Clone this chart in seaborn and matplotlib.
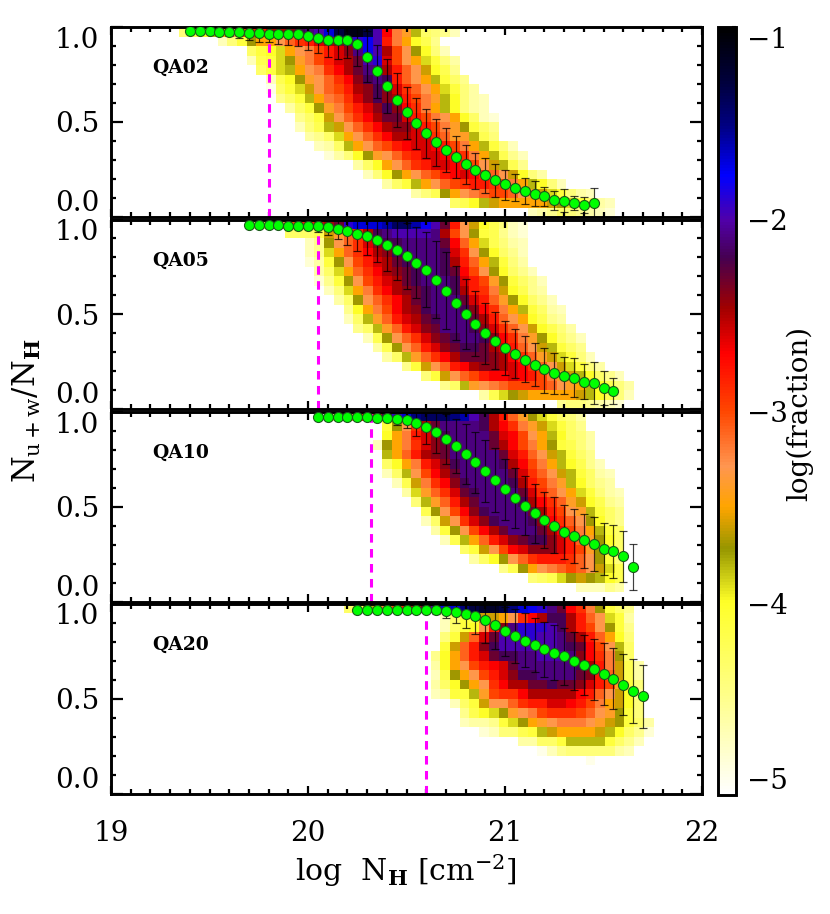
import numpy as np
import matplotlib
matplotlib.use("Agg")
import matplotlib.pyplot as plt
from matplotlib.colors import LinearSegmentedColormap
from matplotlib.ticker import MultipleLocator
import seaborn as sns

sns.set_theme(style="white")
plt.rcParams['font.family'] = ['DejaVu Serif']
plt.rcParams['mathtext.fontset'] = 'dejavuserif'
plt.rcParams.update({'text.color': 'black', 'axes.labelcolor': 'black', 'xtick.color': 'black', 'ytick.color': 'black'})

# Heat-map cells: (first column, values) per row, top row first; values are -log(fraction) x 10
QA02_rows = [
 (7,[44,42,40,38,35,33,30,28,28,25,25,24,22,21,20,17,13,11,11,13,20,27,32,34,38,43,44,45,47]),
 (11,[47,44,41,37,35,35,33,31,29,28,26,25,24,21,19,18,20,28,32,35,40,42,45]),
 (14,[43,41,40,39,35,33,32,30,28,26,24,21,18,20,25,30,33,37,40,44,47]),
 (14,[47,42,41,39,37,34,32,30,28,26,25,23,20,19,26,30,33,35,39,41,44,46]),
 (15,[43,41,39,38,35,33,32,29,27,25,23,21,21,25,28,31,33,36,40,42,45]),
 (16,[47,42,40,37,34,33,31,29,27,24,22,21,22,28,31,33,35,38,41,43,45]),
 (16,[49,43,41,39,36,33,31,30,28,25,24,22,24,26,29,31,33,35,39,41,44,46]),
 (17,[45,43,41,38,35,32,31,29,26,24,22,24,25,28,30,32,34,38,40,44,46,47]),
 (18,[46,43,41,37,34,32,30,28,26,24,22,24,27,29,32,35,38,40,44,46,47]),
 (19,[45,43,41,36,33,31,29,27,25,23,23,26,28,30,32,33,35,40,43,47,48]),
 (19,[47,44,42,38,36,33,31,29,27,25,24,24,26,28,30,32,34,37,41,43,45]),
 (20,[46,45,43,39,35,33,31,29,27,25,25,26,26,29,31,34,34,38,42,44]),
 (21,[47,46,43,38,35,33,31,30,28,27,26,26,27,28,30,32,35,38,41,44,47]),
 (22,[48,46,44,40,37,34,33,31,29,28,26,26,27,28,29,32,35,38,42,45,47]),
 (25,[46,43,40,35,33,31,29,28,26,26,27,28,30,33,36,38,42,45]),
 (26,[47,44,40,37,35,33,31,30,28,27,26,27,29,31,33,36,40,44,46]),
 (28,[46,43,41,38,35,33,31,30,29,28,28,29,30,32,35,38,40,44,47]),
 (31,[46,44,42,37,35,33,32,31,30,30,31,33,34,36,39,41,44,46,47]),
 (35,[43,42,40,38,36,35,35,35,35,35,36,37,39,41,43,46,47]),
 (43,[47,46,45,43,44,45,46,47,48]),
]
QA05_rows = [
 (14,[44,42,38,33,30,28,28,26,25,23,19,17,17,17,16,14,14,16,18,20,23,28,33,36,40,42,44,47,48]),
 (18,[43,43,43,42,36,34,31,28,25,22,21,20,20,20,20,21,25,30,33,37,41,42,45,47,48]),
 (20,[47,45,37,33,31,29,26,24,22,22,21,21,21,21,23,27,31,35,39,42,44,46,47]),
 (20,[47,45,39,35,31,29,27,25,24,22,21,21,21,21,22,26,29,33,37,40,43,45,47]),
 (20,[48,46,41,37,33,30,28,26,25,23,22,21,21,21,22,25,28,31,35,38,41,44,46]),
 (21,[46,43,39,35,31,29,27,25,24,23,22,21,21,22,23,27,30,33,37,40,43,45,47]),
 (21,[48,45,41,37,33,30,28,26,25,23,22,21,21,21,22,26,28,30,34,37,41,43,45,47]),
 (22,[47,44,39,35,32,29,27,25,24,23,22,21,21,22,25,28,29,32,36,40,42,45,46]),
 (23,[46,43,37,33,31,29,27,25,23,22,21,21,21,23,26,28,31,34,37,40,43,45,47]),
 (24,[45,40,35,32,30,27,25,24,22,21,21,21,22,24,27,29,32,35,38,41,43,46,47]),
 (24,[47,43,38,34,31,28,26,25,23,22,21,21,21,23,25,28,31,33,35,40,42,45,46]),
 (25,[45,43,38,34,31,28,26,24,23,21,21,21,22,24,26,29,31,33,36,40,42,44,46]),
 (26,[47,42,37,33,31,29,26,24,23,22,21,21,22,24,27,29,32,34,37,40,43,45,47]),
 (27,[46,42,37,33,31,28,26,24,23,22,22,23,25,26,28,31,33,36,38,41,43,45]),
 (28,[46,43,38,34,31,29,27,25,23,23,23,24,25,27,29,31,34,36,39,41,44,47]),
 (30,[45,41,36,33,31,28,27,25,24,24,25,26,27,29,31,33,36,39,41,44,46]),
 (32,[44,41,36,33,31,30,28,27,27,26,27,28,30,32,34,36,38,40,43,45,47]),
 (34,[45,43,38,34,33,32,31,30,30,30,30,31,33,34,35,38,40,42,44,46]),
 (38,[46,42,39,37,36,35,35,35,35,35,36,38,40,42,44,47]),
 (46,[45,44,44,45,46,47,48]),
]
QA10_rows = [
 (22,[44,38,33,30,28,26,22,19,17,15,14,14,14,15,16,20,22,25,28,31,34,37,39,41,43,44,46]),
 (28,[41,37,33,29,25,23,21,21,21,21,22,25,27,29,32,34,36,39,41,43,45]),
 (28,[40,35,32,28,26,24,22,21,21,21,21,23,26,27,30,33,35,38,40,43,44,46]),
 (27,[47,37,35,32,29,26,24,23,21,21,21,21,23,25,27,30,32,35,37,41,42,44,46]),
 (28,[38,35,31,28,25,24,23,21,21,21,21,21,23,26,28,31,33,36,38,41,43,45]),
 (28,[43,40,35,32,28,26,24,22,21,21,21,21,22,25,27,30,32,35,38,40,42,45,47]),
 (28,[47,43,38,33,30,27,25,23,21,21,21,21,21,23,26,29,31,33,36,38,41,43,46,47]),
 (29,[47,42,36,32,29,27,24,22,21,21,21,21,22,25,28,30,32,34,38,40,43,45,46]),
 (30,[46,39,34,31,29,26,23,22,21,21,21,21,23,26,29,31,33,35,39,41,44,46,47]),
 (31,[44,38,34,31,28,25,23,21,21,21,21,22,25,27,29,31,34,36,40,42,45,46]),
 (32,[42,37,33,30,27,24,22,21,21,21,21,23,25,28,30,33,34,38,41,43,45]),
 (32,[47,43,36,33,29,26,24,22,21,21,21,22,24,27,29,31,33,37,40,43,45]),
 (33,[46,41,37,33,30,27,25,23,21,21,21,23,25,27,30,32,35,38,41,43]),
 (34,[47,42,38,35,31,28,26,24,23,22,22,24,26,28,31,34,37,40,43]),
 (36,[43,41,36,33,30,27,26,24,24,24,26,28,30,34,37,41,43]),
 (37,[46,43,40,37,33,31,29,28,28,28,29,31,33,37,41,44]),
 (40,[45,42,37,35,33,32,31,30,31,33,36,39,42]),
 (43,[44,43,42,39,37,36,37,38,40,42]),
 (48,[47,47,47,45,46]),
 (48,[]),
]
QA20_rows = [
 (24,[43,42,38,35,32,30,28,26,23,20,18,17,15,13,12,12,13,15,17,18,19,21,23,27,29,32,37,41,43,45]),
 (34,[47,43,41,41,36,36,35,33,29,27,25,22,22,25,28,31,33,39,41,46]),
 (34,[47,43,41,40,33,28,24,21,19,19,19,20,22,25,28,30,33,37,41,45]),
 (34,[44,41,36,31,26,23,20,20,19,19,20,20,21,23,25,28,31,35,40,44]),
 (34,[41,36,31,28,24,22,20,20,20,20,20,20,21,22,23,27,30,33,38,43]),
 (33,[45,40,35,31,28,26,23,22,22,21,21,20,20,20,21,24,27,29,32,37,43]),
 (33,[46,40,35,33,30,28,27,26,23,21,21,21,21,21,21,22,25,28,32,36,42,46]),
 (33,[47,42,37,35,33,30,28,26,24,22,22,21,21,21,21,23,24,28,31,36,42,46]),
 (33,[46,43,40,37,35,33,29,27,25,25,23,23,22,23,23,24,26,28,30,34,41,44]),
 (33,[47,46,41,41,38,34,30,29,29,27,25,25,25,25,25,27,28,31,33,36,40,45]),
 (35,[47,43,41,36,33,33,31,29,28,28,26,26,27,28,30,32,35,36,40,44]),
 (36,[45,42,40,39,37,34,33,32,30,29,29,29,30,31,33,34,37,41,44]),
 (36,[47,46,46,45,41,39,37,35,34,33,32,32,32,33,34,36,37,41,43,46]),
 (38,[48,47,44,44,42,41,38,36,35,35,35,35,36,38,40,43,45,48]),
 (42,[46,46,43,43,41,38,38,38,38,41,43,45,47]),
 (44,[49,47,45,44,44,44,44,44,46,47]),
 (49,[49]),
 (49,[]),
 (49,[]),
 (49,[]),
]

# Green points and their error bars
QA02_y = [.977,.977,.977,.975,.973,.972,.970,.966,.965,.965,.963,.961,.954,.943,.934,.933,.934,.910,.844,.766,.688,.615,.550,.493,.441,.394,.351,.314,.277,.245,.220,.193,.172,.152,.136,.122,.108,.089,.085,.074,.064,.074]
QA02_lo = [.975,.975,.975,.970,.955,.942,.934,.922,.920,.913,.906,.899,.880,.862,.844,.832,.835,.796,.711,.626,.546,.472,.413,.360,.310,.271,.236,.204,.174,.147,.126,.106,.092,.082,.067,.057,.057,.039,.025,.037,.023,.002]
QA02_hi = [.979,.979,.979,.980,.990,1.0,1.0,1.0,1.0,1.0,1.0,1.0,1.0,1.0,1.0,1.0,1.0,1.0,.977,.906,.830,.759,.684,.626,.567,.514,.466,.424,.381,.339,.312,.278,.248,.227,.207,.188,.158,.137,.147,.108,.103,.152]
QA05_y = [.972,.972,.972,.972,.967,.967,.967,.964,.959,.952,.939,.923,.913,.893,.867,.839,.805,.772,.733,.682,.622,.559,.499,.448,.402,.360,.323,.290,.260,.233,.210,.189,.175,.166,.143,.136,.112,.093]
QA05_lo = [.970,.970,.970,.970,.966,.966,.962,.934,.916,.899,.865,.835,.811,.774,.728,.680,.631,.584,.536,.478,.420,.362,.314,.281,.240,.209,.182,.161,.140,.119,.084,.077,.077,.065,.051,.026,.020,.024]
QA05_hi = [.975,.975,.975,.975,.968,.968,.972,.994,1.0,1.0,1.0,1.0,1.0,1.0,1.0,1.0,.980,.959,.932,.885,.827,.756,.684,.621,.562,.511,.464,.420,.383,.346,.320,.293,.274,.268,.237,.249,.202,.161]
QA10_y = [.970,.970,.970,.969,.969,.969,.967,.965,.960,.953,.941,.918,.890,.855,.818,.778,.734,.687,.638,.591,.547,.505,.465,.430,.400,.369,.346,.323,.304,.276,.266,.241,.184]
QA10_lo = [.968,.968,.968,.967,.967,.967,.964,.955,.928,.911,.874,.827,.780,.724,.675,.622,.573,.523,.474,.428,.386,.350,.311,.281,.255,.224,.203,.180,.164,.140,.128,.107,.063]
QA10_hi = [.972,.972,.972,.971,.971,.971,.970,.975,.992,.995,1.0,1.0,1.0,.986,.963,.934,.895,.853,.806,.753,.705,.659,.617,.575,.549,.507,.490,.463,.444,.413,.406,.372,.302]
QA20_y = [.967,.967,.967,.967,.967,.967,.967,.965,.965,.963,.956,.946,.932,.911,.886,.856,.830,.805,.782,.761,.742,.723,.698,.675,.656,.630,.605,.574,.540,.512]
QA20_lo = [.966,.966,.966,.966,.965,.965,.964,.960,.946,.926,.900,.874,.842,.795,.760,.725,.689,.667,.642,.616,.596,.572,.544,.521,.495,.468,.447,.416,.374,.344]
QA20_hi = [.968,.968,.968,.968,.969,.969,.970,.970,.984,1.0,1.0,1.0,1.0,1.0,1.0,.980,.970,.950,.925,.904,.889,.872,.851,.833,.816,.793,.768,.735,.707,.679]

panel_names = ['QA02', 'QA05', 'QA10', 'QA20']
panel_rows = [QA02_rows, QA05_rows, QA10_rows, QA20_rows]
panel_y = [QA02_y, QA05_y, QA10_y, QA20_y]
panel_lo = [QA02_lo, QA05_lo, QA10_lo, QA20_lo]
panel_hi = [QA02_hi, QA05_hi, QA10_hi, QA20_hi]
panel_x0 = [19.40, 19.70, 20.05, 20.25]
vlines = [19.80, 20.05, 20.32, 20.60]

cb_values = [-5, -4.5, -4, -3.72, -3.5, -3.29, -3, -2.7, -2.46, -2.2, -2, -1.77, -1.51, -1.28, -1]
cb_colors = ['#ffffff', '#ffff8c', '#ffff28', '#969600', '#ffa500', '#ff9650', '#ff4600', '#ff0000',
             '#a00000', '#460050', '#5000aa', '#0000ff', '#000082', '#00003c', '#000000']
cmap = LinearSegmentedColormap.from_list('idl', [((v + 5) / 4, c) for v, c in zip(cb_values, cb_colors)], N=256)

W, H = 830, 914
fig = plt.figure(figsize=(W / 100, H / 100), dpi=100)
L, R = 111, 702
spans = [(27, 217), (219.5, 409), (411.5, 602), (603.5, 794)]
PT = 0.72
FS = 20

for i, (top, bot) in enumerate(spans):
    rect = [L / W, 1 - bot / H, (R - L) / W, (bot - top) / H]
    mat = np.full((20, 61), np.nan)
    for r, (start, vals) in enumerate(panel_rows[i]):
        if vals:
            mat[r, start:start + len(vals)] = -np.array(vals) / 10
    hax = fig.add_axes(rect)
    sns.heatmap(mat, ax=hax, cmap=cmap, vmin=-5, vmax=-1, cbar=False, xticklabels=False, yticklabels=False)
    hax.set_axis_off()

    ov = fig.add_axes(rect, facecolor='none')
    ov.set_xlim(19, 22)
    ov.set_ylim(0, 1)
    y = np.array(panel_y[i])
    x = panel_x0[i] + 0.05 * np.arange(len(y))
    lo, hi = np.array(panel_lo[i]), np.array(panel_hi[i])
    ov.plot([vlines[i]] * 2, [0, 1], color='#ff00ff', lw=2.2, dashes=(2.8, 2.1), zorder=2)
    ov.errorbar(x, y, yerr=[y - lo, hi - y], fmt='none', ecolor='black', elinewidth=0.85,
                capsize=3.0, capthick=0.85, alpha=0.75, zorder=3)
    sns.scatterplot(x=x, y=y, ax=ov, color='#00ff00', edgecolor='#1c5a1c', linewidth=0.8, s=52, zorder=4, legend=False)
    ov.set_xlabel('')
    ov.set_ylabel('')

    ov.xaxis.set_major_locator(MultipleLocator(1))
    ov.xaxis.set_minor_locator(MultipleLocator(0.1))
    ov.set_yticks([0, 0.5, 1.0])
    ov.yaxis.set_minor_locator(MultipleLocator(0.1))
    ov.tick_params(which='both', direction='in', top=True, right=True, bottom=True, left=True, width=1.6, color='black')
    ov.tick_params(axis='y', which='major', length=12 * PT, labelsize=FS, pad=8.5, labelcolor='black')
    ov.tick_params(axis='x', which='major', length=8 * PT, labelsize=FS, pad=18.5, labelcolor='black')
    ov.tick_params(which='minor', length=5 * PT)
    ov.set_yticklabels(['0.0', '0.5', '1.0'])
    labs = ov.get_yticklabels()
    labs[0].set_verticalalignment('bottom')
    labs[2].set_verticalalignment('top')
    if i < 3:
        ov.set_xticklabels([])
    else:
        ov.set_xticks([19, 20, 21, 22])
        ov.set_xticklabels(['19', '20', '21', '22'])
    for s in ov.spines.values():
        s.set_linewidth(2.1)
        s.set_color('black')
    fig.text(152 / W, 1 - (top + 41) / H, panel_names[i], fontsize=13.5, fontweight='bold', va='center', ha='left', color='black')

# Colour bar
cax = fig.add_axes([718 / W, 1 - 795 / H, 18 / W, 768 / H])
sm = plt.cm.ScalarMappable(norm=plt.Normalize(-5, -1), cmap=cmap)
cb = fig.colorbar(sm, cax=cax)
cb.set_ticks([-5, -4, -3, -2, -1])
cb.set_ticklabels(['\u22125', '\u22124', '\u22123', '\u22122', '\u22121'])
cb.ax.yaxis.set_minor_locator(MultipleLocator(0.5))
cb.ax.tick_params(which='both', direction='in', right=True, left=False, length=4 * PT, width=1.5, color='black')
cb.ax.tick_params(which='major', labelsize=FS, pad=8, labelcolor='black')
cbl = cb.ax.get_yticklabels()
cbl[0].set_verticalalignment('bottom')
cbl[-1].set_verticalalignment('top')
cb.outline.set_linewidth(2.1)
cb.outline.set_edgecolor('black')

fig.text(406 / W, 1 - 871 / H, r'log  N$_{\mathbf{H}}$ [cm$^{-2}$]', fontsize=21.5, ha='center', va='center', color='black')
fig.text(27 / W, 1 - 411 / H, r'N$_{\mathrm{u+w}}$/N$_{\mathbf{H}}$', fontsize=22, rotation=90, ha='center', va='center', color='black')
fig.text(800 / W, 1 - 413 / H, 'log(fraction)', fontsize=20, rotation=90, ha='center', va='center', color='black')

fig.savefig('out.png', dpi=100)
